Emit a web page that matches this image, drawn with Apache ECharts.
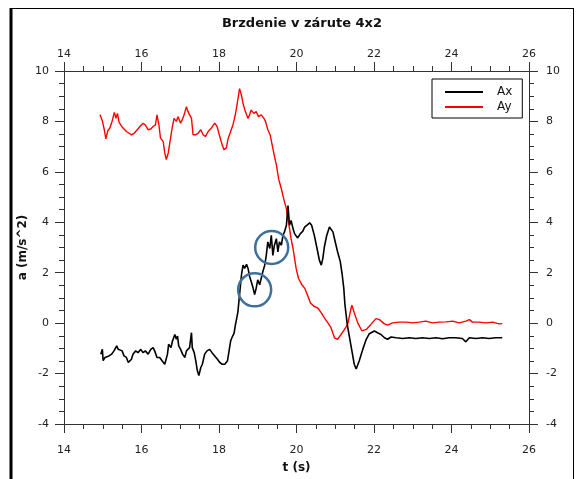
<!DOCTYPE html>
<html>
<head>
<meta charset="utf-8">
<script src="https://cdn.jsdelivr.net/npm/echarts@6/dist/echarts.min.js"></script>
<style>
  html, body { margin: 0; padding: 0; background: #fff; }
  #chart { width: 579px; height: 479px; }
</style>
</head>
<body>
<div id="chart"></div>
<script>
// Longitudinal acceleration Ax (time in s, value in m/s^2)
var tAx = [14.95,14.99,15.01,15.06,15.10,15.16,15.23,15.29,15.36,15.40,15.44,15.50,15.55,15.61,15.66,15.70,15.74,15.78,15.85,15.91,15.98,16.04,16.10,16.17,16.24,16.30,16.34,16.40,16.47,16.53,16.60,16.64,16.67,16.70,16.76,16.80,16.86,16.90,16.93,16.96,17.01,17.06,17.12,17.16,17.20,17.24,17.29,17.31,17.36,17.40,17.44,17.48,17.53,17.57,17.63,17.69,17.76,17.82,17.89,17.96,18.02,18.08,18.15,18.22,18.26,18.30,18.34,18.39,18.42,18.47,18.49,18.53,18.58,18.62,18.66,18.71,18.75,18.79,18.83,18.88,18.92,18.96,19.00,19.05,19.09,19.13,19.18,19.22,19.26,19.31,19.35,19.39,19.43,19.48,19.52,19.56,19.61,19.65,19.69,19.74,19.78,19.82,19.86,19.91,19.95,19.99,20.03,20.10,20.16,20.21,20.28,20.34,20.39,20.46,20.53,20.59,20.64,20.68,20.72,20.78,20.85,20.89,20.94,21.00,21.06,21.13,21.18,21.22,21.25,21.31,21.37,21.43,21.49,21.54,21.62,21.71,21.80,21.88,22.01,22.09,22.18,22.27,22.35,22.44,22.57,22.74,22.91,23.08,23.25,23.43,23.60,23.77,23.94,24.11,24.28,24.37,24.46,24.63,24.80,24.97,25.14,25.31];
var ax = [-1.23,-1.04,-1.49,-1.36,-1.43,-1.30,-1.23,-1.10,-0.90,-1.04,-0.97,-1.10,-1.30,-1.36,-1.56,-1.63,-1.43,-1.23,-1.10,-1.17,-1.04,-1.17,-1.10,-1.23,-1.04,-0.97,-1.10,-1.36,-1.36,-1.49,-1.63,-1.69,-1.23,-0.84,-0.97,-0.71,-0.45,-0.64,-0.51,-0.90,-1.04,-1.23,-1.36,-1.10,-1.17,-0.97,-0.38,-0.97,-1.17,-1.49,-1.88,-2.08,-1.76,-1.63,-1.23,-1.10,-1.04,-1.17,-1.30,-1.43,-1.56,-1.63,-1.63,-1.49,-1.10,-0.71,-0.55,-0.40,-0.10,0.30,0.47,1.13,1.91,2.30,2.17,2.33,2.17,1.85,1.65,1.39,1.13,1.39,1.72,1.52,1.78,2.04,2.30,2.69,3.22,2.96,3.48,2.69,3.09,3.35,2.83,3.22,3.09,3.48,3.62,3.88,4.66,3.88,4.07,3.75,3.55,3.48,3.38,3.55,3.64,3.81,3.90,3.98,3.88,3.48,2.96,2.50,2.30,2.57,3.03,3.48,3.81,3.88,3.62,3.22,2.83,2.44,1.91,1.39,0.73,-0.05,-0.58,-1.10,-1.63,-1.82,-1.49,-1.04,-0.64,-0.42,-0.31,-0.38,-0.45,-0.58,-0.64,-0.55,-0.58,-0.61,-0.58,-0.61,-0.58,-0.61,-0.58,-0.62,-0.58,-0.58,-0.61,-0.74,-0.58,-0.61,-0.58,-0.61,-0.58,-0.58];

// Lateral acceleration Ay (time in s, value in m/s^2)
var tAy = [14.93,14.99,15.04,15.08,15.13,15.18,15.24,15.30,15.34,15.38,15.42,15.49,15.55,15.61,15.68,15.74,15.81,15.89,15.96,16.04,16.10,16.17,16.24,16.30,16.36,16.40,16.45,16.49,16.56,16.60,16.64,16.69,16.73,16.79,16.84,16.90,16.94,17.01,17.05,17.10,17.16,17.20,17.24,17.29,17.33,17.39,17.46,17.53,17.59,17.65,17.72,17.80,17.89,17.95,18.02,18.08,18.13,18.19,18.23,18.30,18.36,18.42,18.47,18.53,18.58,18.62,18.68,18.75,18.79,18.83,18.90,18.96,19.02,19.09,19.16,19.20,19.26,19.32,19.37,19.43,19.48,19.54,19.61,19.67,19.74,19.78,19.82,19.86,19.91,19.95,19.99,20.05,20.14,20.21,20.28,20.36,20.45,20.55,20.64,20.72,20.81,20.89,20.98,21.06,21.15,21.24,21.32,21.41,21.43,21.49,21.58,21.69,21.80,21.92,22.05,22.14,22.27,22.35,22.48,22.65,22.83,23.00,23.17,23.34,23.51,23.68,23.86,24.03,24.20,24.37,24.46,24.54,24.71,24.89,25.06,25.23,25.31];
var ay = [8.26,8.02,7.67,7.31,7.63,7.73,8.00,8.36,8.12,8.32,7.97,7.80,7.70,7.60,7.53,7.47,7.53,7.67,7.80,7.93,7.86,7.67,7.70,7.80,7.86,8.26,7.86,7.34,7.20,6.75,6.49,6.75,7.14,7.73,8.12,8.00,8.19,7.93,8.06,8.26,8.58,8.39,8.45,8.12,7.47,7.47,7.53,7.67,7.47,7.40,7.60,7.73,7.93,7.80,7.40,7.08,6.88,6.95,7.28,7.60,7.86,8.26,8.71,9.30,9.04,8.71,8.39,8.12,8.26,8.45,8.32,8.39,8.19,8.26,8.12,8.00,7.67,7.47,7.08,6.62,6.29,5.71,5.32,4.93,4.53,4.14,3.75,3.35,2.96,2.57,2.17,1.78,1.52,1.39,1.13,0.80,0.67,0.60,0.41,0.21,0.01,-0.18,-0.58,-0.64,-0.45,-0.25,-0.05,0.60,0.71,0.41,0.01,-0.31,-0.25,-0.05,0.18,0.14,-0.03,-0.08,0.01,0.04,0.04,0.01,0.04,0.08,0.01,0.04,0.05,0.08,0.01,0.08,0.14,0.04,0.04,0.01,0.04,-0.03,-0.02];

// Highlighted spots on the Ax trace
var markT = [18.92, 19.36];
var markA = [1.32, 3.00];

function pairs(xs, ys) {
  return xs.map(function (x, i) { return [x, ys[i]]; });
}

var FONT = 'DejaVu Sans';
var AXIS_COLOR = '#333';

function xAxisCfg(pos, margin) {
  return {
    type: 'value', position: pos, min: 14, max: 26, interval: 2,
    axisLine: { show: true, onZero: false, lineStyle: { color: AXIS_COLOR, width: 1 } },
    axisTick: { show: true, inside: false, length: 9, lineStyle: { color: AXIS_COLOR } },
    minorTick: { show: true, splitNumber: 4, length: 5, lineStyle: { color: AXIS_COLOR } },
    splitLine: { show: false },
    axisLabel: { margin: margin, color: '#222', fontFamily: FONT, fontSize: 11 }
  };
}
function yAxisCfg(pos, margin) {
  return {
    type: 'value', position: pos, min: -4, max: 10, interval: 2,
    axisLine: { show: true, onZero: false, lineStyle: { color: AXIS_COLOR, width: 1 } },
    axisTick: { show: true, inside: false, length: 9, lineStyle: { color: AXIS_COLOR } },
    minorTick: { show: true, splitNumber: 4, length: 5, lineStyle: { color: AXIS_COLOR } },
    splitLine: { show: false },
    axisLabel: { margin: margin, color: '#222', fontFamily: FONT, fontSize: 11 }
  };
}

var xb = xAxisCfg('bottom', 21);
xb.name = 't (s)';
xb.nameLocation = 'middle';
xb.nameGap = 38;
xb.nameMoveOverlap = false;
xb.nameTextStyle = { fontFamily: FONT, fontSize: 12, fontWeight: 'bold', color: '#111' };
var xt = xAxisCfg('top', 11);

var yl = yAxisCfg('left', 15);
yl.name = 'a (m/s^2)';
yl.nameLocation = 'middle';
yl.nameGap = 35;
yl.nameMoveOverlap = false;
yl.nameTextStyle = { fontFamily: FONT, fontSize: 12, fontWeight: 'bold', color: '#111' };
var yr = yAxisCfg('right', 17);

var chart = echarts.init(document.getElementById('chart'), null, { renderer: 'canvas' });
chart.setOption({
  animation: false,
  backgroundColor: '#fff',
  title: {
    text: 'Brzdenie v zárute 4x2',
    left: 297, top: 12, textAlign: 'center',
    textStyle: { fontFamily: FONT, fontSize: 13, fontWeight: 'bold', color: '#111' }
  },
  grid: { left: 64, right: 50, top: 71, bottom: 52, containLabel: false },
  xAxis: [xb, xt],
  yAxis: [yl, yr],
  legend: {
    data: ['Ax', 'Ay'],
    orient: 'vertical',
    left: 432, top: 79,
    padding: [7, 10, 5, 13],
    itemGap: 3,
    itemWidth: 38, itemHeight: 2,
    icon: 'rect',
    backgroundColor: '#fff',
    borderColor: '#000', borderWidth: 1, borderRadius: 0,
    textStyle: { fontFamily: FONT, fontSize: 12, color: '#111', padding: [0, 0, 0, 9] }
  },
  graphic: [
    { type: 'line', shape: { x1: 11, y1: 8, x2: 11, y2: 479 }, style: { stroke: '#000', lineWidth: 3 } },
    { type: 'line', shape: { x1: 11, y1: 8.5, x2: 573, y2: 8.5 }, style: { stroke: '#000', lineWidth: 1 } },
    { type: 'line', shape: { x1: 573.5, y1: 8, x2: 573.5, y2: 479 }, style: { stroke: '#000', lineWidth: 1 } }
  ],
  series: [
    {
      name: 'Ax', type: 'line', data: pairs(tAx, ax),
      showSymbol: false, color: '#000',
      lineStyle: { color: '#000', width: 1.6 }, z: 3
    },
    {
      name: 'Ay', type: 'line', data: pairs(tAy, ay),
      showSymbol: false, color: '#ff0000',
      lineStyle: { color: '#ff0000', width: 1.4 }, z: 2
    },
    {
      name: 'marks', type: 'scatter', data: pairs(markT, markA),
      symbol: 'circle', symbolSize: 33, silent: true, z: 4,
      itemStyle: { color: 'rgba(0,0,0,0)', borderColor: '#3f6f9c', borderWidth: 2.5, opacity: 1 }
    }
  ]
});
</script>
</body>
</html>
